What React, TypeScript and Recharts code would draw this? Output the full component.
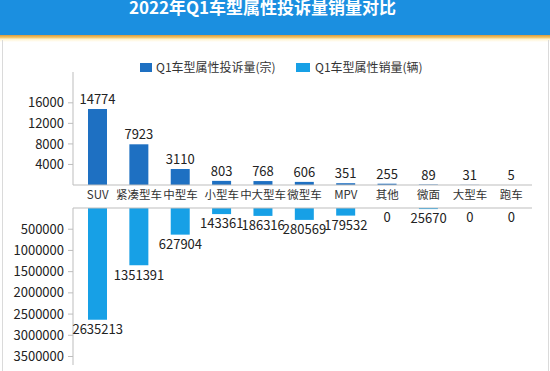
import { BarChart, ComposedChart, Bar, Line, XAxis, YAxis, LabelList, ReferenceLine } from "recharts";

const categories = ["SUV", "紧凑型车", "中型车", "小型车", "中大型车", "微型车", "MPV", "其他", "微面", "大型车", "跑车"];
const complaints = [14774, 7923, 3110, 803, 768, 606, 351, 255, 89, 31, 5];
const sales = [2635213, 1351391, 627904, 143361, 186316, 280569, 179532, 0, 25670, 0, 0];
const complaintTicks = [4000, 8000, 12000, 16000];
const salesTicks = [500000, 1000000, 1500000, 2000000, 2500000, 3000000, 3500000];

const FONT = "'Noto Sans CJK SC', 'Noto Sans', sans-serif";
const DARK = "#1e70c2";
const LIGHT = "#17a0e6";
const AXIS = "#bdbdbd";

const data = categories.map((name, i) => ({
  name,
  complaints: complaints[i],
  sales: sales[i],
}));

// label under the end of each downward bar (zero values included),
// placed from the invisible line's points
const SalesLabel = (props: any) => {
  const x = Number(props.x);
  const y = Number(props.y);
  return (
    <text
      x={x}
      y={y + 5}
      dy="0.72em"
      textAnchor="middle"
      fontSize={13}
      fill="#222"
      fontFamily={FONT}
    >
      {props.value}
    </text>
  );
};

const App = () => {
  return (
    <div
      style={{
        position: "absolute",
        left: 0,
        top: 0,
        width: 550,
        height: 371,
        background: "#fff",
        overflow: "hidden",
        fontFamily: FONT,
      }}
    >
      {/* title bar */}
      <div
        style={{
          position: "absolute",
          left: 0,
          top: 0,
          width: 550,
          height: 35,
          background: "#1b8fe0",
        }}
      />
      <div
        style={{
          position: "absolute",
          left: 0,
          top: 35,
          width: 550,
          height: 7,
          background: "linear-gradient(#d99a3c, #f3c56a 35%, #fff3cf 60%, #fff)",
        }}
      />
      <div
        style={{
          position: "absolute",
          left: 0,
          top: -2,
          width: 525,
          textAlign: "center",
          color: "#fff",
          fontWeight: 700,
          fontSize: 17,
          lineHeight: "18px",
        }}
      >
        2022年Q1车型属性投诉量销量对比
      </div>
      {/* side borders */}
      <div style={{ position: "absolute", left: 2, top: 40, width: 1, height: 331, background: "#dadada" }} />
      <div style={{ position: "absolute", left: 548, top: 40, width: 1, height: 331, background: "#dadada" }} />

      {/* legend */}
      <div style={{ position: "absolute", left: 140, top: 60, fontSize: 12, color: "#333", lineHeight: "14px", display: "flex", alignItems: "center" }}>
        <span style={{ width: 12, height: 9, background: DARK, marginRight: 4 }} />
        Q1车型属性投诉量(宗)
      </div>
      <div style={{ position: "absolute", left: 296, top: 60, fontSize: 12, color: "#333", lineHeight: "14px", display: "flex", alignItems: "center" }}>
        <span style={{ width: 14, height: 9, background: LIGHT, marginRight: 5 }} />
        Q1车型属性销量(辆)
      </div>

      {/* complaints chart */}
      <div style={{ position: "absolute", left: 0, top: 60 }}>
        <BarChart width={550} height={148} data={data} margin={{ top: 12, right: 18, bottom: 0, left: 0 }}>
          <XAxis
            dataKey="name"
            interval={0}
            padding={{ left: 4, right: 0 }}
            axisLine={{ stroke: AXIS }}
            tickLine={false}
            tickSize={4}
            height={23}
            tick={{ fontSize: 11.5, fill: "#333", fontFamily: FONT }}
          />
          <YAxis
            width={73}
            domain={[0, 22000]}
            ticks={complaintTicks}
            interval={0}
            axisLine={{ stroke: AXIS }}
            tickLine={{ stroke: AXIS }}
            tickSize={5}
            tickMargin={4}
            tick={{ fontSize: 13, fill: "#222", fontFamily: FONT }}
          />
          <Bar dataKey="complaints" fill={DARK} barSize={19} isAnimationActive={false}>
            <LabelList dataKey="complaints" position="top" style={{ fontSize: 13, fill: "#222", fontFamily: FONT }} />
          </Bar>
        </BarChart>
      </div>

      {/* sales chart */}
      <div style={{ position: "absolute", left: 0, top: 200 }}>
        <ComposedChart width={550} height={171} data={data} margin={{ top: 8, right: 18, bottom: 6, left: 0 }}>
          <XAxis dataKey="name" hide padding={{ left: 4, right: 0 }} />
          <YAxis
            width={73}
            reversed
            domain={[0, 3700000]}
            ticks={salesTicks}
            interval={0}
            axisLine={{ stroke: AXIS }}
            tickLine={{ stroke: AXIS }}
            tickSize={5}
            tickMargin={4}
            tick={{ fontSize: 13, fill: "#222", fontFamily: FONT }}
          />
          <ReferenceLine y={0} stroke={AXIS} />
          <Bar dataKey="sales" fill={LIGHT} barSize={19} isAnimationActive={false} />
          <Line
            dataKey="sales"
            stroke="none"
            dot={false}
            activeDot={false}
            legendType="none"
            isAnimationActive={false}
          >
            <LabelList dataKey="sales" content={SalesLabel} />
          </Line>
        </ComposedChart>
      </div>
    </div>
  );
};

export default App;
